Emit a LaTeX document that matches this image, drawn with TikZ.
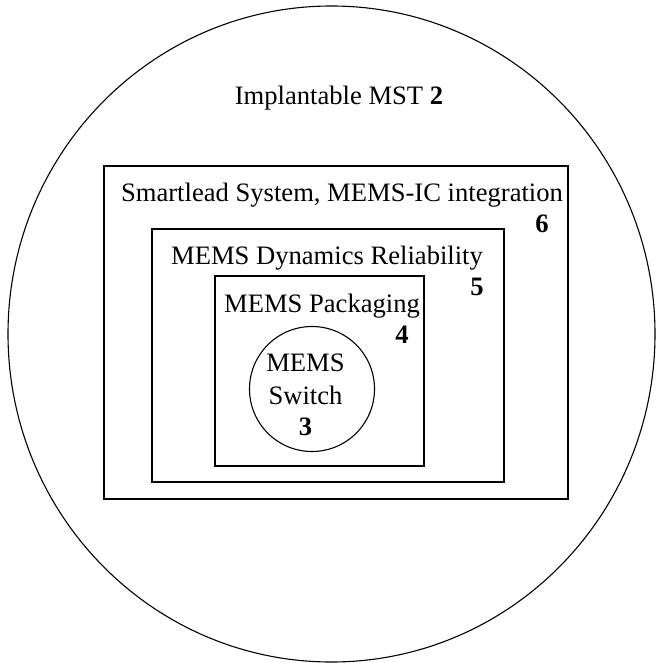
\documentclass[tikz,border=0pt]{standalone}
\usepackage{fontspec}
\setmainfont{Liberation Serif}
\usetikzlibrary{positioning, shapes.geometric}

\begin{document}
\begin{tikzpicture}[
    x=1pt, y=-1pt,
    % Styles
    base/.style={font=\fontsize{26.6pt}{32pt}\selectfont, inner sep=0pt},
    layer/.style={rectangle, draw, line width=1.4pt, inner sep=0pt},
    disc/.style={circle, draw, line width=1.1pt, inner sep=0pt},
    caption/.style={base, anchor=base},
    num/.style={base, anchor=base, font=\fontsize{26.6pt}{32pt}\selectfont\bfseries}
]
    \useasboundingbox (0,0) rectangle (656,663);

    % --- Outer domain ---
    \node [ellipse, draw, line width=1.1pt, minimum width=647pt, minimum height=656pt] (mst) at (331.5,334) {};
    \node [caption] (mstlabel) at (339,105) {Implantable MST \textbf{2}};

    % --- Nested layers ---
    \node [layer, minimum width=464pt, minimum height=333pt] (smart) at (336,332.5) {};
    \node [layer, minimum width=352pt, minimum height=253pt] (dyn) at (328,355.5) {};
    \node [layer, minimum width=209pt, minimum height=190pt] (pack) at (319.5,371) {};
    \node [disc, minimum size=125pt] (switch) at (312,389) {};

    % --- Labels ---
    \node [caption] (smartlabel) at (342,201) {Smartlead System, MEMS-IC integration};
    \node [num] (n6) at (542,232) {6};
    \node [caption] (dynlabel) at (327,264) {MEMS Dynamics Reliability};
    \node [num] (n5) at (477,295) {5};
    \node [caption] (packlabel) at (322,312) {MEMS Packaging};
    \node [num] (n4) at (402,343) {4};
    \node [caption] (sw1) at (305.5,371.5) {MEMS};
    \node [caption] (sw2) at (305.5,404) {Switch};
    \node [num] (n3) at (305.5,435) {3};

\end{tikzpicture}
\end{document}
